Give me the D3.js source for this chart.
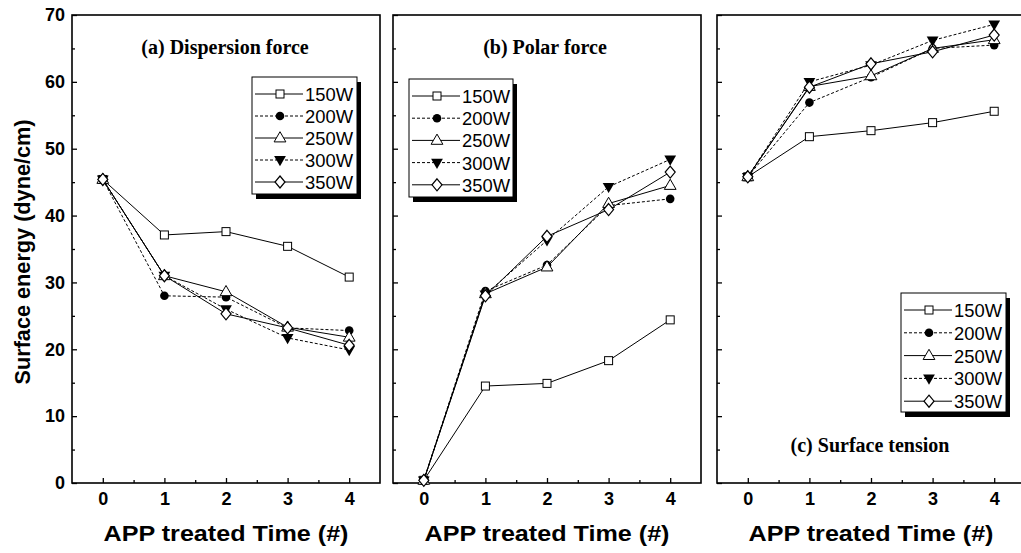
<!DOCTYPE html>
<html>
<head>
<meta charset="utf-8">
<script src="https://cdn.jsdelivr.net/npm/d3@7"></script>
<style>
body { margin: 0; background: #fff; }
svg { display: block; }
</style>
</head>
<body>
<script>
// treatment count and plasma power series
var times = [0, 1, 2, 3, 4];
var powers = ["150W", "200W", "250W", "300W", "350W"];
var xTicks = [0, 1, 2, 3, 4];
var yTicks = [0, 10, 20, 30, 40, 50, 60, 70];

// (a) dispersion force, one row per power
var dispersion = [
	[45.4, 37.1, 37.6, 35.4, 30.8],
	[45.4, 28.0, 27.8, 23.2, 22.8],
	[45.4, 31.0, 28.6, 23.3, 21.8],
	[45.4, 31.0, 26.0, 21.7, 19.9],
	[45.4, 31.0, 25.3, 23.2, 20.6]
];
// (b) polar force
var polar = [
	[0.4, 14.5, 14.9, 18.3, 24.4],
	[0.4, 28.7, 32.6, 41.5, 42.5],
	[0.4, 28.3, 32.3, 41.8, 44.5],
	[0.4, 28.2, 36.3, 44.3, 48.4],
	[0.4, 28.0, 36.9, 40.9, 46.5]
];
// (c) surface tension
var tension = [
	[45.8, 51.8, 52.7, 53.9, 55.6],
	[45.8, 56.9, 60.7, 65.0, 65.5],
	[45.8, 59.3, 60.9, 65.0, 66.3],
	[45.8, 60.0, 62.5, 66.2, 68.6],
	[45.8, 59.2, 62.7, 64.5, 67.0]
];
var panelTitles = ["(a) Dispersion force", "(b) Polar force", "(c) Surface tension"];

var W = 1021, H = 553;
var svg = d3.select("body").append("svg").attr("width", W).attr("height", H);

var plotTop = 15, ph = 468, pw = 308;
var lefts = [72, 393, 717];

var x = d3.scaleLinear().domain([-0.5, 4.5]).range([0, pw]);
var y = d3.scaleLinear().domain([0, 70]).range([ph, 0]);

var dashed = [false, true, false, true, false];

function marker(g, i, cx, cy) {
	if (i == 0) {
		g.append("rect").attr("x", cx - 4).attr("y", cy - 4).attr("width", 8).attr("height", 8)
			.attr("fill", "#fff").attr("stroke", "#000").attr("stroke-width", 1);
	} else if (i == 1) {
		g.append("circle").attr("cx", cx).attr("cy", cy).attr("r", 4.3).attr("fill", "#000");
	} else if (i == 2) {
		g.append("path").attr("d", d3.symbol(d3.symbolTriangle, 60)())
			.attr("transform", "translate(" + cx + "," + (cy + 0.5) + ")")
			.attr("fill", "#fff").attr("stroke", "#000").attr("stroke-width", 1);
	} else if (i == 3) {
		g.append("path").attr("d", d3.symbol(d3.symbolTriangle, 60)())
			.attr("transform", "translate(" + cx + "," + (cy - 0.5) + ") rotate(180)")
			.attr("fill", "#000");
	} else {
		g.append("path").attr("d", "M0,-6L5,0L0,6L-5,0Z")
			.attr("transform", "translate(" + cx + "," + cy + ")")
			.attr("fill", "#fff").attr("stroke", "#000").attr("stroke-width", 1.2);
	}
}

var legendPos = [
	{x: 252, y: 77, w: 105, h: 117, step: 22},
	{x: 409, y: 79, w: 104, h: 118, step: 22.2},
	{x: 901, y: 293, w: 105, h: 119, step: 22.8}
];
var titlePos = [[225, 54], [545, 54], [870, 452]];

var panelData = [dispersion, polar, tension];

panelData.forEach(function(data, p) {
	var g = svg.append("g").attr("transform", "translate(" + lefts[p] + "," + plotTop + ")");

	// minor ticks
	g.append("g").attr("transform", "translate(0," + ph + ")")
		.call(d3.axisBottom(x).tickValues([0.5, 1.5, 2.5, 3.5]).tickSize(-3).tickFormat(""));
	g.append("g")
		.call(d3.axisLeft(y).tickValues([5, 15, 25, 35, 45, 55, 65]).tickSize(-3).tickFormat(""));

	g.append("g").attr("transform", "translate(0," + ph + ")")
		.call(d3.axisBottom(x).tickValues(xTicks).tickSize(-5).tickPadding(9).tickFormat(d3.format("d")));
	g.append("g")
		.call(d3.axisLeft(y).tickValues(yTicks).tickSize(-5).tickPadding(7)
			.tickFormat(p == 0 ? d3.format("d") : ""));

	g.selectAll(".domain").remove();
	g.selectAll(".tick line").attr("stroke", "#000").attr("stroke-width", 1.3);
	g.selectAll(".tick text").attr("font-family", "Liberation Sans, Arial, sans-serif")
		.attr("font-weight", "bold").attr("font-size", 18).attr("fill", "#000");

	g.append("rect").attr("x", 0).attr("y", 0).attr("width", pw).attr("height", ph)
		.attr("fill", "none").attr("stroke", "#000").attr("stroke-width", 1.6);

	var line = d3.line().x(function(d, i) { return x(times[i]); }).y(function(d) { return y(d); });

	data.forEach(function(s, i) {
		g.append("path").datum(s).attr("d", line)
			.attr("fill", "none").attr("stroke", "#000").attr("stroke-width", 1)
			.attr("stroke-dasharray", dashed[i] ? "3,2" : null);
	});
	data.forEach(function(s, i) {
		s.forEach(function(v, k) { marker(g, i, x(times[k]), y(v)); });
	});

	// panel title
	svg.append("text").attr("x", titlePos[p][0]).attr("y", titlePos[p][1])
		.attr("text-anchor", "middle").attr("font-family", "Liberation Serif, Times New Roman, serif")
		.attr("font-weight", "bold").attr("font-size", 20).text(panelTitles[p]);

	// legend
	var L = legendPos[p];
	var lg = svg.append("g");
	lg.append("rect").attr("x", L.x + 4).attr("y", L.y + 5).attr("width", L.w).attr("height", L.h).attr("fill", "#000");
	lg.append("rect").attr("x", L.x).attr("y", L.y).attr("width", L.w).attr("height", L.h)
		.attr("fill", "#fff").attr("stroke", "#000").attr("stroke-width", 1);
	powers.forEach(function(name, i) {
		var ry = L.y + 17 + i * L.step;
		lg.append("line").attr("x1", L.x + 3).attr("x2", L.x + 51).attr("y1", ry).attr("y2", ry)
			.attr("stroke", "#000").attr("stroke-width", 1).attr("stroke-dasharray", dashed[i] ? "3,2" : null);
		marker(lg, i, L.x + 28, ry);
		lg.append("text").attr("x", L.x + 53).attr("y", ry + 7)
			.attr("font-family", "Liberation Sans, Arial, sans-serif").attr("font-size", 19)
			.attr("textLength", 48).attr("lengthAdjust", "spacingAndGlyphs").text(name);
	});

	// x axis title
	svg.append("text").attr("x", lefts[p] + x(2)).attr("y", 541)
		.attr("text-anchor", "middle").attr("font-family", "Liberation Sans, Arial, sans-serif")
		.attr("font-weight", "bold").attr("font-size", 22)
		.attr("textLength", 245).attr("lengthAdjust", "spacingAndGlyphs")
		.text("APP treated Time (#)");
});

svg.append("text").attr("transform", "translate(30,252) rotate(-90)")
	.attr("text-anchor", "middle").attr("font-family", "Liberation Sans, Arial, sans-serif")
	.attr("font-weight", "bold").attr("font-size", 22)
	.attr("textLength", 265).attr("lengthAdjust", "spacingAndGlyphs")
	.text("Surface energy (dyne/cm)");
</script>
</body>
</html>
